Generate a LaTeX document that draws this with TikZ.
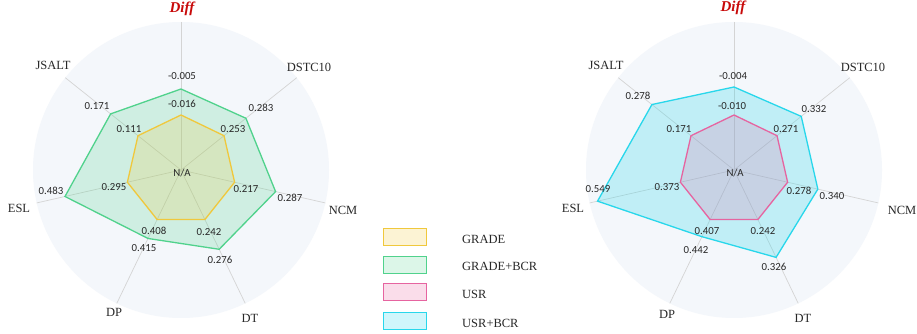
\documentclass[tikz,border=0pt]{standalone}
\usepackage{fontspec}
\setmainfont{Liberation Serif}
\newfontfamily\valfont{Carlito}

\definecolor{bgdisk}{RGB}{244,247,251}
\definecolor{gridln}{RGB}{212,212,212}
\definecolor{gradeln}{RGB}{240,200,60}
\definecolor{gbcrln}{RGB}{80,210,140}
\definecolor{usrln}{RGB}{230,100,160}
\definecolor{ubcrln}{RGB}{40,215,235}
\definecolor{diffred}{RGB}{200,10,10}
\definecolor{txt}{RGB}{40,40,40}

\tikzset{
  axisline/.style={draw=gridln, line width=0.7pt},
  val/.style={font=\valfont\fontsize{10.8}{12}\selectfont, text=txt, inner sep=0pt},
  cat/.style={font=\fontsize{12.5}{14}\selectfont, text=txt, inner sep=0pt},
  difflbl/.style={font=\bfseries\itshape\fontsize{15}{17}\selectfont, text=diffred, inner sep=0pt},
  poly/.style={line width=1.3pt, line join=miter},
  legbox/.style={minimum width=43pt, minimum height=17pt, line width=1pt, inner sep=0pt},
  legtxt/.style={font=\fontsize{12.5}{14}\selectfont, text=txt, anchor=west, inner sep=0pt},
}

\begin{document}
\begin{tikzpicture}[x=1pt,y=1pt]
\fill[white] (0,0) rectangle (917,334);
\useasboundingbox (0,0) rectangle (917,334);

% ---------------- left radar: GRADE ----------------
\coordinate (Lc) at (181,164);
\fill[bgdisk] (Lc) circle (148);
\foreach \a [count=\i] in {90,38.57,-12.86,-64.29,-115.71,-167.14,141.43}
  \draw[axisline] (Lc) -- ++(\a:148) coordinate (Lax\i);

\foreach \a/\r [count=\i] in {90/81,38.57/83,-12.86/97,-64.29/88,-115.71/76,-167.14/119,141.43/90}
  \path (Lc) ++(\a:\r) coordinate (Lb\i);
\foreach \a [count=\i] in {90,38.57,-12.86,-64.29,-115.71,-167.14,141.43}
  \path (Lc) ++(\a:55) coordinate (Lg\i);

\filldraw[poly, draw=gbcrln, fill=gbcrln, fill opacity=0.22]
  (Lb1) -- (Lb2) -- (Lb3) -- (Lb4) -- (Lb5) -- (Lb6) -- (Lb7) -- cycle;
\filldraw[poly, draw=gradeln, fill=gradeln, fill opacity=0.2]
  (Lg1) -- (Lg2) -- (Lg3) -- (Lg4) -- (Lg5) -- (Lg6) -- (Lg7) -- cycle;

\node[val] (Lna) at (182,161) {N/A};
\node[val] (Lv1) at (182,258) {-0.005};
\node[val] (Lu1) at (182,230) {-0.016};
\node[val] (Lv2) at (261,226) {0.283};
\node[val] (Lu2) at (233,205) {0.253};
\node[val] (Lv3) at (290,136) {0.287};
\node[val] (Lu3) at (246,145) {0.217};
\node[val] (Lv4) at (220,74) {0.276};
\node[val] (Lu4) at (209,102) {0.242};
\node[val] (Lv5) at (144,86) {0.415};
\node[val] (Lu5) at (154,103) {0.408};
\node[val] (Lv6) at (51,143) {0.483};
\node[val] (Lu6) at (114,147) {0.295};
\node[val] (Lv7) at (97,228) {0.171};
\node[val] (Lu7) at (129,205) {0.111};

\node[difflbl] (Lk1) at (182,325) {Diff};
\node[cat] (Lk2) at (309,267) {DSTC10};
\node[cat] (Lk3) at (343,124) {NCM};
\node[cat] (Lk4) at (250,16) {DT};
\node[cat] (Lk5) at (114,22) {DP};
\node[cat] (Lk6) at (19,126) {ESL};
\node[cat] (Lk7) at (53,269) {JSALT};

% ---------------- right radar: USR ----------------
\coordinate (Rc) at (734,164);
\fill[bgdisk] (Rc) circle (148);
\foreach \a [count=\i] in {90,38.57,-12.86,-64.29,-115.71,-167.14,141.43}
  \draw[axisline] (Rc) -- ++(\a:148) coordinate (Rax\i);

\foreach \a/\r [count=\i] in {90/83,38.57/86,-12.86/86,-64.29/97,-115.71/74,-167.14/140,141.43/105}
  \path (Rc) ++(\a:\r) coordinate (Rb\i);
\foreach \a [count=\i] in {90,38.57,-12.86,-64.29,-115.71,-167.14,141.43}
  \path (Rc) ++(\a:55) coordinate (Ru\i);

\filldraw[poly, draw=ubcrln, fill=ubcrln, fill opacity=0.25]
  (Rb1) -- (Rb2) -- (Rb3) -- (Rb4) -- (Rb5) -- (Rb6) -- (Rb7) -- cycle;
\filldraw[poly, draw=usrln, fill=usrln, fill opacity=0.2]
  (Ru1) -- (Ru2) -- (Ru3) -- (Ru4) -- (Ru5) -- (Ru6) -- (Ru7) -- cycle;

\node[val] (Rna) at (735,161) {N/A};
\node[val] (Rv1) at (733,258) {-0.004};
\node[val] (Rw1) at (732,228) {-0.010};
\node[val] (Rv2) at (814,225) {0.332};
\node[val] (Rw2) at (786,205) {0.271};
\node[val] (Rv3) at (832,138) {0.340};
\node[val] (Rw3) at (799,143) {0.278};
\node[val] (Rv4) at (774,67) {0.326};
\node[val] (Rw4) at (763,103) {0.242};
\node[val] (Rv5) at (696,84) {0.442};
\node[val] (Rw5) at (707,103) {0.407};
\node[val] (Rv6) at (598,145) {0.549};
\node[val] (Rw6) at (667,147) {0.373};
\node[val] (Rv7) at (638,238) {0.278};
\node[val] (Rw7) at (679,205) {0.171};

\node[difflbl] (Rk1) at (733,326) {Diff};
\node[cat] (Rk2) at (863,267) {DSTC10};
\node[cat] (Rk3) at (902,124) {NCM};
\node[cat] (Rk4) at (803,16) {DT};
\node[cat] (Rk5) at (667,20) {DP};
\node[cat] (Rk6) at (573,126) {ESL};
\node[cat] (Rk7) at (606,269) {JSALT};

% ---------------- legend ----------------
\node[legbox, draw=gradeln, fill=gradeln!22] (lg1) at (404.5,96.5) {};
\node[legbox, draw=gbcrln, fill=gbcrln!20] (lg2) at (404.5,69) {};
\node[legbox, draw=usrln, fill=usrln!22] (lg3) at (404.5,41.5) {};
\node[legbox, draw=ubcrln, fill=ubcrln!22] (lg4) at (404.5,12.5) {};
\node[legtxt] (lt1) at (462,94.5) {GRADE};
\node[legtxt] (lt2) at (462,68) {GRADE+BCR};
\node[legtxt] (lt3) at (462,39.5) {USR};
\node[legtxt] (lt4) at (462,11) {USR+BCR};
\end{tikzpicture}
\end{document}
